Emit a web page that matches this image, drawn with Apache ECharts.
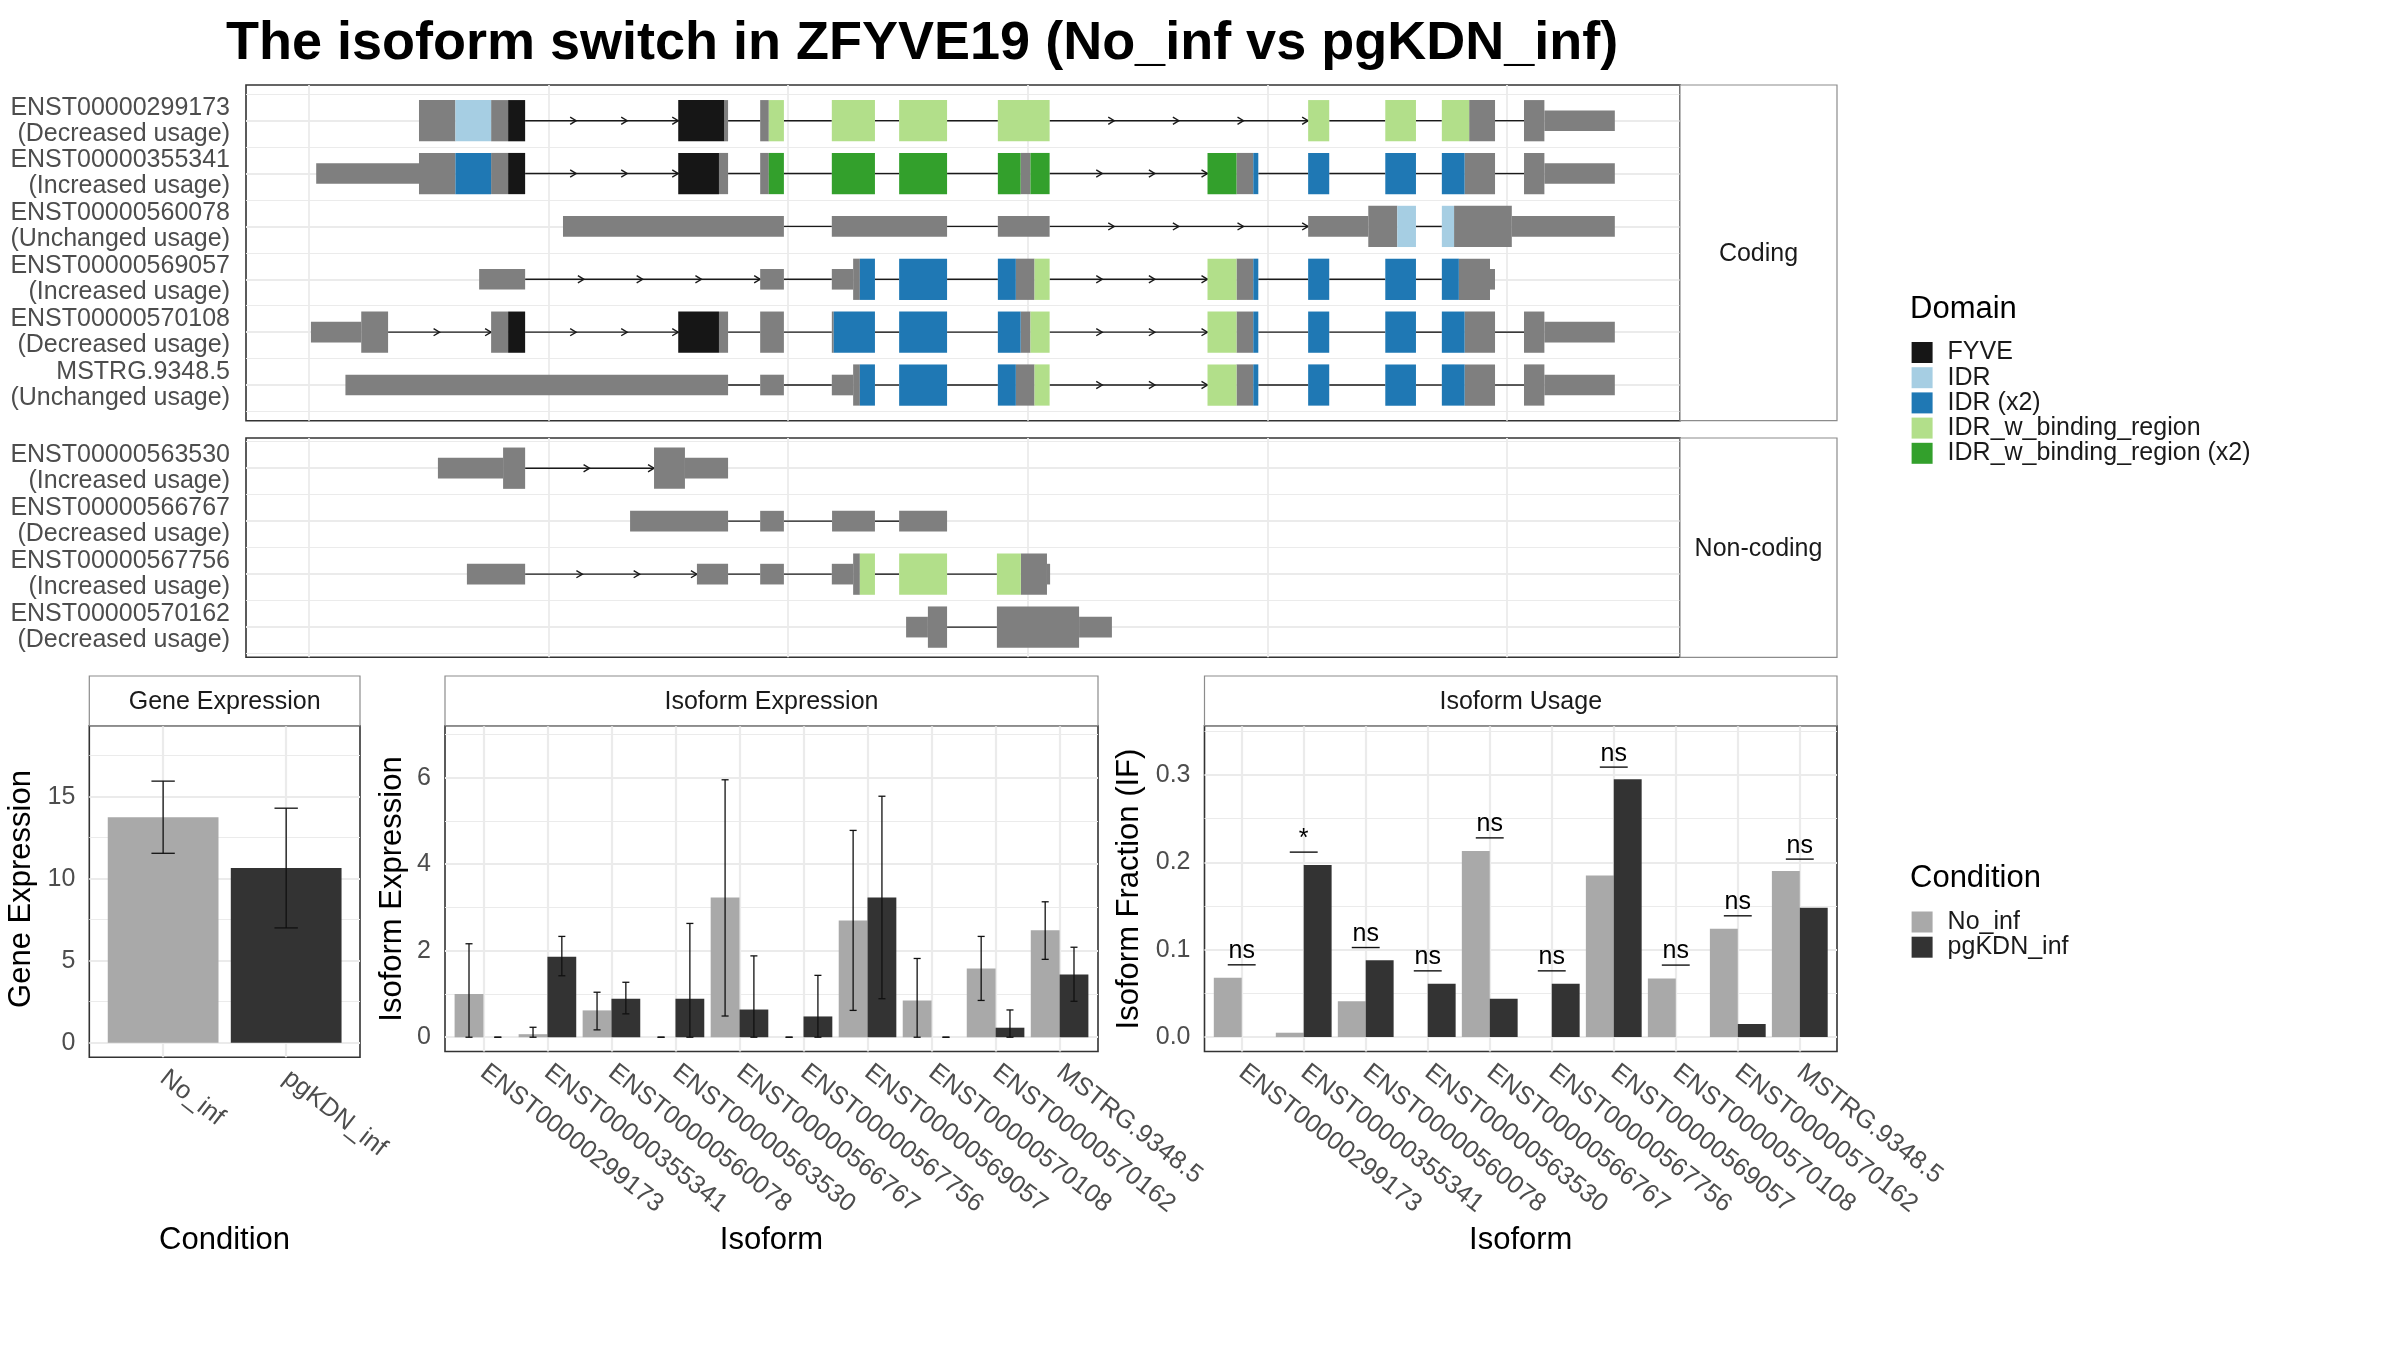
<!DOCTYPE html>
<html><head><meta charset="utf-8">
<script src="https://cdn.jsdelivr.net/npm/echarts@6/dist/echarts.min.js"></script>
<style>html,body{margin:0;padding:0;background:#fff}#c{width:2400px;height:1350px}</style>
</head><body><div id="c"></div>
<script>
// ---------------- DATA ----------------
const titleText = 'The isoform switch in ZFYVE19 (No_inf vs pgKDN_inf)';
const domainNames = { N: 'none', F: 'FYVE', I: 'IDR', I2: 'IDR (x2)', B: 'IDR_w_binding_region', B2: 'IDR_w_binding_region (x2)' };
const domainColors = { N: '#7F7F7F', F: '#161616', I: '#A6CEE3', I2: '#1F78B4', B: '#B2DF8A', B2: '#33A02C' };
const legendDomains = ['F', 'I', 'I2', 'B', 'B2'];

const codingIds = ['ENST00000299173', 'ENST00000355341', 'ENST00000560078', 'ENST00000569057', 'ENST00000570108', 'MSTRG.9348.5'];
const codingUsage = ['Decreased usage', 'Increased usage', 'Unchanged usage', 'Increased usage', 'Decreased usage', 'Unchanged usage'];
const noncodingIds = ['ENST00000563530', 'ENST00000566767', 'ENST00000567756', 'ENST00000570162'];
const noncodingUsage = ['Increased usage', 'Decreased usage', 'Increased usage', 'Decreased usage'];

// exon pieces: [start, end, domain, cds(1)/utr(0)]  (relative genomic position, bp)
const ex_ENST00000299173 = [[459,611,'N',1],[611,760,'I',1],[760,831,'N',1],[831,902,'F',1],
  [1541,1733,'F',1],[1733,1749,'N',1],[1883,1919,'N',1],[1919,1982,'B',1],
  [2182,2362,'B',1],[2463,2663,'B',1],[2875,3091,'B',1],
  [4170,4258,'B',1],[4492,4620,'B',1],[4728,4842,'B',1],[4842,4950,'N',1],
  [5071,5156,'N',1],[5156,5450,'N',0]];
const ex_ENST00000355341 = [[30,459,'N',0],[459,611,'N',1],[611,760,'I2',1],[760,831,'N',1],[831,902,'F',1],
  [1541,1711,'F',1],[1711,1749,'N',1],[1883,1919,'N',1],[1919,1982,'B2',1],
  [2182,2362,'B2',1],[2463,2663,'B2',1],[2875,2970,'B2',1],[2970,3011,'N',1],[3011,3091,'B2',1],
  [3750,3871,'B2',1],[3871,3941,'N',1],[3941,3962,'I2',1],
  [4170,4258,'I2',1],[4492,4620,'I2',1],[4728,4823,'I2',1],[4823,4950,'N',1],
  [5071,5156,'N',1],[5156,5450,'N',0]];
const ex_ENST00000560078 = [[1060,1982,'N',0],[2182,2663,'N',0],[2875,3091,'N',0],
  [4170,4421,'N',0],[4421,4542,'N',1],[4542,4620,'I',1],[4728,4779,'I',1],[4779,5020,'N',1],[5020,5450,'N',0]];
const ex_ENST00000569057 = [[710,902,'N',0],[1883,1982,'N',0],[2182,2271,'N',0],[2271,2299,'N',1],[2299,2362,'I2',1],
  [2463,2663,'I2',1],[2875,2950,'I2',1],[2950,3028,'N',1],[3028,3091,'B',1],
  [3750,3871,'B',1],[3871,3941,'N',1],[3941,3962,'I2',1],
  [4170,4258,'I2',1],[4492,4620,'I2',1],[4728,4799,'I2',1],[4799,4929,'N',1],[4929,4950,'N',0]];
const ex_ENST00000570108 = [[8,218,'N',0],[218,330,'N',1],[760,831,'N',1],[831,902,'F',1],
  [1541,1711,'F',1],[1711,1749,'N',1],[1883,1982,'N',1],[2182,2190,'N',1],[2190,2362,'I2',1],
  [2463,2663,'I2',1],[2875,2970,'I2',1],[2970,3011,'N',1],[3011,3091,'B',1],
  [3750,3871,'B',1],[3871,3941,'N',1],[3941,3962,'I2',1],
  [4170,4258,'I2',1],[4492,4620,'I2',1],[4728,4823,'I2',1],[4823,4950,'N',1],
  [5071,5156,'N',1],[5156,5450,'N',0]];
const ex_MSTRG_9348_5 = [[152,1749,'N',0],[1883,1982,'N',0],[2182,2271,'N',0],[2271,2299,'N',1],[2299,2362,'I2',1],
  [2463,2663,'I2',1],[2875,2950,'I2',1],[2950,3028,'N',1],[3028,3091,'B',1],
  [3750,3871,'B',1],[3871,3941,'N',1],[3941,3962,'I2',1],
  [4170,4258,'I2',1],[4492,4620,'I2',1],[4728,4823,'I2',1],[4823,4950,'N',1],
  [5071,5156,'N',1],[5156,5450,'N',0]];
const ex_ENST00000563530 = [[538,810,'N',0],[810,902,'N',1],[1440,1569,'N',1],[1569,1749,'N',0]];
const ex_ENST00000566767 = [[1340,1749,'N',0],[1883,1982,'N',0],[2183,2362,'N',0],[2463,2663,'N',0]];
const ex_ENST00000567756 = [[659,902,'N',0],[1619,1749,'N',0],[1883,1982,'N',0],[2182,2271,'N',0],[2271,2299,'N',1],
  [2299,2362,'B',1],[2463,2663,'B',1],[2871,2971,'B',1],[2971,3080,'N',1],[3080,3093,'N',0]];
const ex_ENST00000570162 = [[2492,2583,'N',0],[2583,2663,'N',1],[2871,3214,'N',1],[3214,3351,'N',0]];

const codingExons = [ex_ENST00000299173, ex_ENST00000355341, ex_ENST00000560078, ex_ENST00000569057, ex_ENST00000570108, ex_MSTRG_9348_5];
const noncodingExons = [ex_ENST00000563530, ex_ENST00000566767, ex_ENST00000567756, ex_ENST00000570162];
const structGridBreaks = [0, 1000, 2000, 3000, 4000, 5000];

const conditions = ['No_inf', 'pgKDN_inf'];
const conditionColors = ['#A9A9A9', '#333333'];
const geneMean = [13.75, 10.65];
const geneLow = [11.55, 7.0];
const geneHigh = [15.95, 14.3];
const geneTicks = [0, 5, 10, 15];

const isoforms = ['ENST00000299173', 'ENST00000355341', 'ENST00000560078', 'ENST00000563530', 'ENST00000566767',
  'ENST00000567756', 'ENST00000569057', 'ENST00000570108', 'ENST00000570162', 'MSTRG.9348.5'];
const isoExpNo = [1.00, 0.07, 0.62, 0, 3.23, 0, 2.70, 0.85, 1.59, 2.47];
const isoExpNoLow = [0, 0, 0.17, 0, 0.49, 0, 0.62, 0, 0.85, 1.80];
const isoExpNoHigh = [2.16, 0.23, 1.04, 0, 5.95, 0, 4.78, 1.82, 2.33, 3.13];
const isoExpKd = [0, 1.86, 0.89, 0.89, 0.64, 0.48, 3.23, 0, 0.22, 1.45];
const isoExpKdLow = [0, 1.42, 0.54, 0, 0, 0, 0.89, 0, 0, 0.83];
const isoExpKdHigh = [0, 2.33, 1.27, 2.63, 1.88, 1.43, 5.57, 0, 0.63, 2.08];
const isoExpTicks = [0, 2, 4, 6];

const ifNo = [0.068, 0.005, 0.041, 0, 0.213, 0, 0.185, 0.067, 0.124, 0.190];
const ifKd = [0, 0.197, 0.088, 0.061, 0.044, 0.061, 0.295, 0, 0.015, 0.148];
const sigLabel = ['ns', '*', 'ns', 'ns', 'ns', 'ns', 'ns', 'ns', 'ns', 'ns'];
const sigY = [0.0827, 0.2117, 0.1025, 0.0758, 0.228, 0.0758, 0.309, 0.0824, 0.1388, 0.2037];
const ifTicks = [0, 0.1, 0.2, 0.3];

// ---------------- STYLE / LAYOUT ----------------
const FONT = '"Liberation Sans", Arial, Helvetica, sans-serif';
const GRID_COL = '#EBEBEB';
const TXT_GRAY = '#4D4D4D';
const L = {
  coding: { left: 246, top: 85, width: 1434, height: 335.7 },
  noncoding: { left: 246, top: 438, width: 1434, height: 219.3 },
  gene: { left: 89.3, top: 725.7, width: 270.7, height: 331.6 },
  iso: { left: 445, top: 725.7, width: 653, height: 325.8 },
  usage: { left: 1204.5, top: 725.7, width: 632.5, height: 325.8 }
};
const STRIP_RIGHT = 1837;
const STRIP_TOP = 676;

// ---------------- HELPERS ----------------
function gridOf(g) {
  return { left: g.left, top: g.top, width: g.width, height: g.height, show: true,
    borderColor: '#333333', borderWidth: 1.6, backgroundColor: '#FFFFFF', containLabel: false };
}
function gridLines(idx, xs, ysMajor, ysMinor, xWidth) {
  const d = [];
  xs.forEach(v => d.push({ xAxis: v, lineStyle: { color: GRID_COL, width: xWidth, type: 'solid' } }));
  ysMinor.forEach(v => d.push({ yAxis: v, lineStyle: { color: GRID_COL, width: 1.2, type: 'solid' } }));
  ysMajor.forEach(v => d.push({ yAxis: v, lineStyle: { color: GRID_COL, width: 2.2, type: 'solid' } }));
  return { type: 'line', name: 'grid' + idx, xAxisIndex: idx, yAxisIndex: idx, data: [], z: 1, silent: true,
    markLine: { silent: true, symbol: ['none', 'none'], label: { show: false }, animation: false, z: 1, data: d } };
}
function segRender(params, api) {
  const s = api.value(0), e = api.value(1), row = api.value(2), cds = api.value(3);
  const p0 = api.coord([s, row]), p1 = api.coord([e, row]);
  const h = Math.abs(api.size([0, cds ? 0.78 : 0.39])[1]);
  return { type: 'rect', shape: { x: p0[0], y: p0[1] - h / 2, width: p1[0] - p0[0], height: h },
    style: { fill: api.visual('color') } };
}
function buildSegSeries(list, idx) {
  const out = [];
  Object.keys(domainNames).forEach(code => {
    const data = [];
    list.forEach((ex, r) => ex.forEach(s => { if (s[2] === code) data.push([s[0], s[1], r + 1, s[3]]); }));
    if (!data.length) return;
    out.push({ type: 'custom', name: domainNames[code], xAxisIndex: idx, yAxisIndex: idx, z: 4, silent: true,
      itemStyle: { color: domainColors[code] }, renderItem: segRender, data, encode: { x: [0, 1], y: 2 } });
  });
  return out;
}
function buildIntronSeries(list, idx) {
  const data = list.map((ex, r) => [ex[0][0], ex[ex.length - 1][1], r + 1]);
  return { type: 'custom', name: 'intron' + idx, xAxisIndex: idx, yAxisIndex: idx, z: 3, silent: true,
    encode: { x: [0, 1], y: 2 }, data,
    renderItem: function (params, api) {
      const ex = list[params.dataIndex], row = params.dataIndex + 1, ch = [];
      const st = { stroke: '#1A1A1A', lineWidth: 1.4, fill: null };
      for (let i = 1; i < ex.length; i++) {
        const a = ex[i - 1][1], b = ex[i][0];
        if (b <= a) continue;
        const pa = api.coord([a, row]), pb = api.coord([b, row]);
        ch.push({ type: 'line', shape: { x1: pa[0], y1: pa[1], x2: pb[0], y2: pb[1] }, style: st });
        const len = b - a;
        const n = len >= 300 ? Math.round(len / 250) : 0;
        for (let k = 1; k <= n; k++) {
          const p = api.coord([a + len * k / n, row]);
          ch.push({ type: 'polyline', shape: { points: [[p[0] - 6, p[1] - 3.6], [p[0], p[1]], [p[0] - 6, p[1] + 3.6]] }, style: st });
        }
      }
      return { type: 'group', children: ch };
    } };
}
function barSeries(name, color, idx, vals, off0, off1) {
  return { type: 'custom', name, xAxisIndex: idx, yAxisIndex: idx, z: 3, silent: true, itemStyle: { color },
    data: vals.map((v, i) => [i, v]), encode: { x: 0, y: 1 },
    renderItem: function (params, api) {
      const x = api.value(0), v = api.value(1);
      if (!v) return null;
      const a = api.coord([x + off0, v]), b = api.coord([x + off1, 0]);
      return { type: 'rect', shape: { x: a[0], y: a[1], width: b[0] - a[0], height: b[1] - a[1] }, style: { fill: color } };
    } };
}
function errSeries(idx, lows, highs, off, capHalf) {
  return { type: 'custom', name: 'err' + idx, xAxisIndex: idx, yAxisIndex: idx, z: 5, silent: true,
    data: lows.map((v, i) => [i, v, highs[i]]), encode: { x: 0, y: [1, 2] },
    renderItem: function (params, api) {
      const x = api.value(0) + off, lo = api.value(1), hi = api.value(2);
      const st = { stroke: '#111', lineWidth: 1.3 };
      const pl = api.coord([x, lo]), ph = api.coord([x, hi]);
      const a = api.coord([x - capHalf, hi]), b = api.coord([x + capHalf, hi]);
      const c = api.coord([x - capHalf, lo]), d = api.coord([x + capHalf, lo]);
      return { type: 'group', children: [
        { type: 'line', shape: { x1: pl[0], y1: pl[1], x2: ph[0], y2: ph[1] }, style: st },
        { type: 'line', shape: { x1: a[0], y1: a[1], x2: b[0], y2: b[1] }, style: st },
        { type: 'line', shape: { x1: c[0], y1: c[1], x2: d[0], y2: d[1] }, style: st }] };
    } };
}
function sigSeries(idx) {
  return { type: 'custom', name: 'sig', xAxisIndex: idx, yAxisIndex: idx, z: 5, silent: true,
    data: sigY.map((v, i) => [i, v]), encode: { x: 0, y: 1 },
    renderItem: function (params, api) {
      const i = api.value(0), y = api.value(1);
      const a = api.coord([i - 0.225, y]), b = api.coord([i + 0.225, y]), m = api.coord([i, y]);
      return { type: 'group', children: [
        { type: 'line', shape: { x1: a[0], y1: a[1], x2: b[0], y2: b[1] }, style: { stroke: '#111', lineWidth: 1.4 } },
        { type: 'text', x: m[0], y: m[1] - 1, style: { text: sigLabel[params.dataIndex], fontSize: 25, fontFamily: FONT,
          fill: '#000', align: 'center', verticalAlign: 'bottom' } }] };
    } };
}
function structY(idx, n, ids, usage) {
  const vals = ids.map((_, i) => i + 1);
  return { gridIndex: idx, type: 'value', inverse: true, min: 0.5 - (idx === 0 ? 0.175 : 0.07), max: n + 0.5 + (idx === 0 ? 0.175 : 0.07),
    axisLine: { show: false }, axisTick: { show: false }, splitLine: { show: false },
    axisLabel: { customValues: vals, formatter: v => { const k = Math.round(v) - 1; return ids[k] + '\n(' + usage[k] + ')'; },
      fontSize: 25, lineHeight: 26, color: TXT_GRAY, fontFamily: FONT, margin: 16, align: 'right',
      showMinLabel: true, showMaxLabel: true, hideOverlap: false } };
}
function bottomX(idx, names) {
  const vals = names.map((_, i) => i);
  return { gridIndex: idx, type: 'value', min: -0.6, max: names.length - 0.4,
    axisLine: { show: false }, splitLine: { show: false },
    axisTick: { show: true, customValues: vals, length: 7, lineStyle: { color: '#333', width: 1.5 } },
    axisLabel: { customValues: vals, formatter: v => names[Math.round(v)], rotate: -38, fontSize: 25.5, color: TXT_GRAY,
      fontFamily: FONT, margin: 18, hideOverlap: false, showMinLabel: true, showMaxLabel: true } };
}
function bottomY(idx, min, max, ticks, fmt) {
  return { gridIndex: idx, type: 'value', min, max, axisLine: { show: false }, splitLine: { show: false },
    axisTick: { show: true, customValues: ticks, length: 7, lineStyle: { color: '#333', width: 1.5 } },
    axisLabel: { customValues: ticks, formatter: fmt, fontSize: 25, color: TXT_GRAY, fontFamily: FONT, margin: 14 } };
}
function halfSteps(ticks, min, max) {
  const step = ticks[1] - ticks[0], out = [];
  for (let v = ticks[0] - step / 2; v <= max; v += step) if (v >= min) out.push(v);
  return out;
}
function strip(x0, y0, x1, y1, text) {
  return [
    { type: 'rect', shape: { x: x0, y: y0, width: x1 - x0, height: y1 - y0 }, style: { fill: '#FFFFFF', stroke: '#8C8C8C', lineWidth: 1.2 }, z: 10 },
    { type: 'text', x: (x0 + x1) / 2, y: (y0 + y1) / 2 + 1.5, style: { text, fontSize: 25, fontFamily: FONT, fill: '#1A1A1A', align: 'center', verticalAlign: 'middle' }, z: 11 }
  ];
}
function label(text, x, y, size, opts) {
  return Object.assign({ type: 'text', x, y, z: 11, style: Object.assign({ text, fontSize: size, fontFamily: FONT, fill: '#000',
    align: 'center', verticalAlign: 'middle' }, opts && opts.style || {}) }, opts && opts.el || {});
}

// ---------------- OPTION ----------------
const geneMin = -0.89, geneMax = 19.33, isoMin = -0.33, isoMax = 7.2, ifMin = -0.0165, ifMax = 0.3564;

const series = [
  gridLines(0, structGridBreaks, [1, 2, 3, 4, 5, 6], [0.5, 1.5, 2.5, 3.5, 4.5, 5.5, 6.5], 1.8),
  gridLines(1, structGridBreaks, [1, 2, 3, 4], [0.5, 1.5, 2.5, 3.5, 4.5], 1.8),
  buildIntronSeries(codingExons, 0),
  buildIntronSeries(noncodingExons, 1),
  ...buildSegSeries(codingExons, 0),
  ...buildSegSeries(noncodingExons, 1),
  gridLines(2, [0, 1], geneTicks, halfSteps(geneTicks, geneMin, geneMax), 2.2),
  gridLines(3, isoforms.map((_, i) => i), isoExpTicks, halfSteps(isoExpTicks, isoMin, isoMax), 2.2),
  gridLines(4, isoforms.map((_, i) => i), ifTicks, halfSteps(ifTicks, ifMin, ifMax), 2.2),
  // gene expression: one bar per condition
  { type: 'custom', name: 'No_inf', xAxisIndex: 2, yAxisIndex: 2, z: 3, silent: true, itemStyle: { color: conditionColors[0] },
    data: [[0, geneMean[0]]], encode: { x: 0, y: 1 },
    renderItem: (p, api) => { const a = api.coord([api.value(0) - 0.45, api.value(1)]), b = api.coord([api.value(0) + 0.45, 0]);
      return { type: 'rect', shape: { x: a[0], y: a[1], width: b[0] - a[0], height: b[1] - a[1] }, style: { fill: conditionColors[0] } }; } },
  { type: 'custom', name: 'pgKDN_inf', xAxisIndex: 2, yAxisIndex: 2, z: 3, silent: true, itemStyle: { color: conditionColors[1] },
    data: [[1, geneMean[1]]], encode: { x: 0, y: 1 },
    renderItem: (p, api) => { const a = api.coord([api.value(0) - 0.45, api.value(1)]), b = api.coord([api.value(0) + 0.45, 0]);
      return { type: 'rect', shape: { x: a[0], y: a[1], width: b[0] - a[0], height: b[1] - a[1] }, style: { fill: conditionColors[1] } }; } },
  errSeries(2, geneLow, geneHigh, 0, 0.095),
  barSeries('No_inf', conditionColors[0], 3, isoExpNo, -0.45, 0),
  barSeries('pgKDN_inf', conditionColors[1], 3, isoExpKd, 0, 0.45),
  errSeries(3, isoExpNoLow, isoExpNoHigh, -0.225, 0.055),
  errSeries(3, isoExpKdLow, isoExpKdHigh, 0.225, 0.055),
  barSeries('No_inf', conditionColors[0], 4, ifNo, -0.45, 0),
  barSeries('pgKDN_inf', conditionColors[1], 4, ifKd, 0, 0.45),
  sigSeries(4)
];

const graphic = [
  label(titleText, 226, 44, 54, { style: { fontWeight: 'bold', align: 'left' } }),
  ...strip(L.coding.left + L.coding.width, L.coding.top, STRIP_RIGHT, L.coding.top + L.coding.height, 'Coding'),
  ...strip(L.noncoding.left + L.noncoding.width, L.noncoding.top, STRIP_RIGHT, L.noncoding.top + L.noncoding.height, 'Non-coding'),
  ...strip(L.gene.left, STRIP_TOP, L.gene.left + L.gene.width, L.gene.top, 'Gene Expression'),
  ...strip(L.iso.left, STRIP_TOP, L.iso.left + L.iso.width, L.iso.top, 'Isoform Expression'),
  ...strip(L.usage.left, STRIP_TOP, L.usage.left + L.usage.width, L.usage.top, 'Isoform Usage'),
  label('Domain', 1910, 309, 31, { style: { align: 'left' } }),
  label('Condition', 1910, 878, 31, { style: { align: 'left' } }),
  label('Gene Expression', 21.5, 889, 31, { el: { rotation: Math.PI / 2 } }),
  label('Isoform Expression', 392, 889, 31, { el: { rotation: Math.PI / 2 } }),
  label('Isoform Fraction (IF)', 1129.6, 889, 31, { el: { rotation: Math.PI / 2 } }),
  label('Condition', 224.6, 1240, 31),
  label('Isoform', 771.5, 1240, 31),
  label('Isoform', 1520.7, 1240, 31)
];

const legendCommon = { orient: 'vertical', itemWidth: 21, itemHeight: 21, itemGap: 0.2, icon: 'rect', selectedMode: false,
  padding: 0, textStyle: { fontSize: 25, lineHeight: 21, color: '#1A1A1A', fontFamily: FONT, padding: [0, 0, 0, 10] } };

const option = {
  animation: false,
  backgroundColor: '#FFFFFF',
  textStyle: { fontFamily: FONT },
  grid: [gridOf(L.coding), gridOf(L.noncoding), gridOf(L.gene), gridOf(L.iso), gridOf(L.usage)],
  xAxis: [
    { gridIndex: 0, type: 'value', min: -263, max: 5722, show: false },
    { gridIndex: 1, type: 'value', min: -263, max: 5722, show: false },
    bottomX(2, conditions),
    bottomX(3, isoforms),
    bottomX(4, isoforms)
  ],
  yAxis: [
    structY(0, 6, codingIds, codingUsage),
    structY(1, 4, noncodingIds, noncodingUsage),
    bottomY(2, geneMin, geneMax, geneTicks, v => String(Math.round(v))),
    bottomY(3, isoMin, isoMax, isoExpTicks, v => String(Math.round(v))),
    bottomY(4, ifMin, ifMax, ifTicks, v => v.toFixed(1))
  ],
  legend: [
    Object.assign({}, legendCommon, { data: legendDomains.map(c => domainNames[c]), left: 1911.6, top: 340 }),
    Object.assign({}, legendCommon, { data: conditions, left: 1911.6, top: 909.5 })
  ],
  graphic,
  series
};

const chart = echarts.init(document.getElementById('c'), null, { renderer: 'canvas', width: 2400, height: 1350 });
chart.setOption(option);
</script></body></html>
